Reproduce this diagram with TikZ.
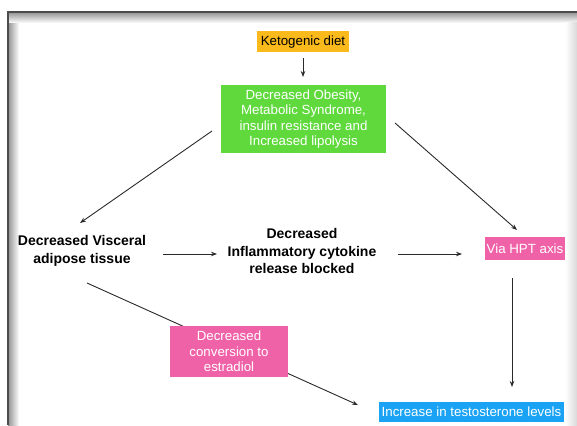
\documentclass[tikz,border=0pt]{standalone}
\usepackage{fontspec}
\setmainfont{Liberation Sans}
\usetikzlibrary{arrows.meta}
\definecolor{ketoorange}{HTML}{FBBA1B}
\definecolor{boxgreen}{HTML}{5FD93C}
\definecolor{boxpink}{HTML}{F062A8}
\definecolor{boxblue}{HTML}{1AA3F5}
\definecolor{linegray}{HTML}{2A2A2A}
\tikzset{
  box/.style={inner sep=0pt, align=center, font=\fontsize{13.3}{15.5}\selectfont, text=white},
  plain/.style={inner sep=0pt, align=center, font=\fontsize{14}{17.5}\selectfont\bfseries, text=black},
  conn/.style={draw=linegray, line width=0.9pt, -{Stealth[length=6pt,width=4.5pt]}}
}
\begin{document}
\begin{tikzpicture}[x=1pt,y=-1pt]
\useasboundingbox (0,0) rectangle (577,425);
\fill[white] (0,0) rectangle (577,425);
% frame with inner shadow
\shade[left color=gray!85, right color=white] (8,12) rectangle (19,425);
\shade[top color=gray!85, bottom color=white] (8,12) rectangle (577,23);
\shade[left color=white, right color=gray!30] (565,23) rectangle (577,425);
\draw[gray!60!black, line width=1.2pt] (8,425) -- (8,12) -- (577,12);

% nodes
\node[box, fill=ketoorange, text=black, minimum width=92pt, minimum height=21pt] (keto) at (303,42) {Ketogenic diet};
\node[box, fill=boxgreen, minimum width=165pt, minimum height=68pt] (green) at (303.5,119) {Decreased Obesity,\\Metabolic Syndrome,\\insulin resistance and\\Increased lipolysis};
\node[plain] (visc) at (82,251) {Decreased Visceral\\adipose tissue};
\node[plain] (cyto) at (302,251) {Decreased\\Inflammatory cytokine\\release blocked};
\node[box, fill=boxpink, minimum width=80pt, minimum height=23pt] (hpt) at (525,248.5) {Via HPT axis};
\node[box, fill=boxblue, minimum width=185pt, minimum height=20pt] (testo) at (471.5,412) {Increase in testosterone levels};

% connector end points
\coordinate (k1) at (303,58);
\coordinate (k2) at (303,77);
\coordinate (g1) at (212,131);
\coordinate (v1) at (80,223);
\coordinate (g2) at (395,123);
\coordinate (h1) at (517,230);
\coordinate (v2) at (163,254);
\coordinate (c1) at (217,254);
\coordinate (c2) at (397.5,254);
\coordinate (h2) at (462,254);
\coordinate (h3) at (512,278);
\coordinate (t1) at (512,387);
\coordinate (v3) at (87,283);
\coordinate (t2) at (358,405);

\draw[conn] (k1) -- (k2);
\draw[conn] (g1) -- (v1);
\draw[conn] (g2) -- (h1);
\draw[conn] (v2) -- (c1);
\draw[conn] (c2) -- (h2);
\draw[conn] (h3) -- (t1);
\draw[conn] (v3) -- (t2);

% box drawn over the diagonal
\node[box, fill=boxpink, minimum width=118pt, minimum height=51pt] (estr) at (229,351.5) {Decreased\\conversion to\\estradiol};
\end{tikzpicture}
\end{document}
